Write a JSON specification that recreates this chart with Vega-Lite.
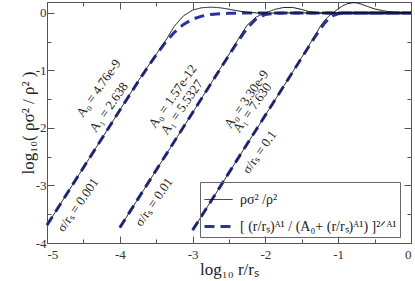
{
  "$schema": "https://vega.github.io/schema/vega-lite/v6.json",
  "width": 364,
  "height": 241,
  "autosize": {"type": "none"},
  "padding": {"left": 47, "top": 2, "right": 4, "bottom": 38},
  "background": "white",
  "config": {
    "font": "Liberation Serif",
    "view": {"stroke": "#555"},
    "axis": {
      "grid": false,
      "domainColor": "#555",
      "tickColor": "#555",
      "labelFont": "Liberation Serif",
      "labelFontSize": 13,
      "labelColor": "#333",
      "titleFont": "Liberation Serif",
      "titleFontSize": 17,
      "titleFontWeight": "normal",
      "titleColor": "#222"
    }
  },
  "datasets": {
    "curves": [
      {"curve": "c1", "kind": "fit", "L": -5, "y": -3.69},
      {"curve": "c1", "kind": "fit", "L": -4.5, "y": -2.69},
      {"curve": "c1", "kind": "fit", "L": -4, "y": -1.693},
      {"curve": "c1", "kind": "fit", "L": -3.75, "y": -1.199},
      {"curve": "c1", "kind": "fit", "L": -3.625, "y": -0.959},
      {"curve": "c1", "kind": "fit", "L": -3.5, "y": -0.729},
      {"curve": "c1", "kind": "fit", "L": -3.375, "y": -0.517},
      {"curve": "c1", "kind": "fit", "L": -3.25, "y": -0.337},
      {"curve": "c1", "kind": "fit", "L": -3.125, "y": -0.2},
      {"curve": "c1", "kind": "fit", "L": -3.0, "y": -0.109},
      {"curve": "c1", "kind": "fit", "L": -2.875, "y": -0.055},
      {"curve": "c1", "kind": "fit", "L": -2.75, "y": -0.027},
      {"curve": "c1", "kind": "fit", "L": -2.625, "y": -0.013},
      {"curve": "c1", "kind": "fit", "L": -2.5, "y": -0.006},
      {"curve": "c1", "kind": "fit", "L": -2.25, "y": -0.001},
      {"curve": "c1", "kind": "fit", "L": -2.0, "y": 0},
      {"curve": "c1", "kind": "fit", "L": 0, "y": 0},
      {"curve": "c2", "kind": "fit", "L": -4, "y": -3.733},
      {"curve": "c2", "kind": "fit", "L": -3.5, "y": -2.733},
      {"curve": "c2", "kind": "fit", "L": -3, "y": -1.733},
      {"curve": "c2", "kind": "fit", "L": -2.75, "y": -1.233},
      {"curve": "c2", "kind": "fit", "L": -2.625, "y": -0.983},
      {"curve": "c2", "kind": "fit", "L": -2.5, "y": -0.735},
      {"curve": "c2", "kind": "fit", "L": -2.375, "y": -0.49},
      {"curve": "c2", "kind": "fit", "L": -2.25, "y": -0.265},
      {"curve": "c2", "kind": "fit", "L": -2.125, "y": -0.101},
      {"curve": "c2", "kind": "fit", "L": -2.0, "y": -0.026},
      {"curve": "c2", "kind": "fit", "L": -1.875, "y": -0.006},
      {"curve": "c2", "kind": "fit", "L": -1.75, "y": -0.001},
      {"curve": "c2", "kind": "fit", "L": -1.5, "y": 0},
      {"curve": "c2", "kind": "fit", "L": 0, "y": 0},
      {"curve": "c3", "kind": "fit", "L": -3, "y": -3.777},
      {"curve": "c3", "kind": "fit", "L": -2.5, "y": -2.777},
      {"curve": "c3", "kind": "fit", "L": -2, "y": -1.777},
      {"curve": "c3", "kind": "fit", "L": -1.75, "y": -1.277},
      {"curve": "c3", "kind": "fit", "L": -1.5, "y": -0.777},
      {"curve": "c3", "kind": "fit", "L": -1.4375, "y": -0.652},
      {"curve": "c3", "kind": "fit", "L": -1.375, "y": -0.528},
      {"curve": "c3", "kind": "fit", "L": -1.3125, "y": -0.405},
      {"curve": "c3", "kind": "fit", "L": -1.25, "y": -0.286},
      {"curve": "c3", "kind": "fit", "L": -1.1875, "y": -0.179},
      {"curve": "c3", "kind": "fit", "L": -1.125, "y": -0.093},
      {"curve": "c3", "kind": "fit", "L": -1.0625, "y": -0.04},
      {"curve": "c3", "kind": "fit", "L": -1.0, "y": -0.015},
      {"curve": "c3", "kind": "fit", "L": -0.9375, "y": -0.005},
      {"curve": "c3", "kind": "fit", "L": -0.875, "y": -0.002},
      {"curve": "c3", "kind": "fit", "L": -0.75, "y": 0},
      {"curve": "c3", "kind": "fit", "L": 0, "y": 0},
      {"curve": "c1", "kind": "rho", "L": -5, "y": -3.69},
      {"curve": "c1", "kind": "rho", "L": -4.5, "y": -2.69},
      {"curve": "c1", "kind": "rho", "L": -4, "y": -1.69},
      {"curve": "c1", "kind": "rho", "L": -3.75, "y": -1.19},
      {"curve": "c1", "kind": "rho", "L": -3.625, "y": -0.95},
      {"curve": "c1", "kind": "rho", "L": -3.5, "y": -0.72},
      {"curve": "c1", "kind": "rho", "L": -3.375, "y": -0.49},
      {"curve": "c1", "kind": "rho", "L": -3.25, "y": -0.23},
      {"curve": "c1", "kind": "rho", "L": -3.125, "y": -0.05},
      {"curve": "c1", "kind": "rho", "L": -3.0, "y": 0.05},
      {"curve": "c1", "kind": "rho", "L": -2.875, "y": 0.09},
      {"curve": "c1", "kind": "rho", "L": -2.75, "y": 0.1},
      {"curve": "c1", "kind": "rho", "L": -2.625, "y": 0.09},
      {"curve": "c1", "kind": "rho", "L": -2.5, "y": 0.065},
      {"curve": "c1", "kind": "rho", "L": -2.375, "y": 0.035},
      {"curve": "c1", "kind": "rho", "L": -2.25, "y": 0.012},
      {"curve": "c1", "kind": "rho", "L": -2.125, "y": 0.0},
      {"curve": "c1", "kind": "rho", "L": -2.0, "y": -0.005},
      {"curve": "c1", "kind": "rho", "L": -1.75, "y": 0},
      {"curve": "c1", "kind": "rho", "L": 0, "y": 0},
      {"curve": "c2", "kind": "rho", "L": -4, "y": -3.733},
      {"curve": "c2", "kind": "rho", "L": -3.5, "y": -2.733},
      {"curve": "c2", "kind": "rho", "L": -3, "y": -1.733},
      {"curve": "c2", "kind": "rho", "L": -2.75, "y": -1.23},
      {"curve": "c2", "kind": "rho", "L": -2.5, "y": -0.72},
      {"curve": "c2", "kind": "rho", "L": -2.375, "y": -0.46},
      {"curve": "c2", "kind": "rho", "L": -2.25, "y": -0.21},
      {"curve": "c2", "kind": "rho", "L": -2.125, "y": -0.07},
      {"curve": "c2", "kind": "rho", "L": -2.0, "y": 0.0},
      {"curve": "c2", "kind": "rho", "L": -1.875, "y": 0.06},
      {"curve": "c2", "kind": "rho", "L": -1.75, "y": 0.095},
      {"curve": "c2", "kind": "rho", "L": -1.625, "y": 0.095},
      {"curve": "c2", "kind": "rho", "L": -1.5, "y": 0.06},
      {"curve": "c2", "kind": "rho", "L": -1.375, "y": 0.015},
      {"curve": "c2", "kind": "rho", "L": -1.25, "y": -0.003},
      {"curve": "c2", "kind": "rho", "L": -1.0, "y": 0},
      {"curve": "c2", "kind": "rho", "L": 0, "y": 0},
      {"curve": "c3", "kind": "rho", "L": -3, "y": -3.777},
      {"curve": "c3", "kind": "rho", "L": -2.5, "y": -2.777},
      {"curve": "c3", "kind": "rho", "L": -2, "y": -1.777},
      {"curve": "c3", "kind": "rho", "L": -1.75, "y": -1.277},
      {"curve": "c3", "kind": "rho", "L": -1.5, "y": -0.77},
      {"curve": "c3", "kind": "rho", "L": -1.4375, "y": -0.645},
      {"curve": "c3", "kind": "rho", "L": -1.375, "y": -0.51},
      {"curve": "c3", "kind": "rho", "L": -1.3125, "y": -0.38},
      {"curve": "c3", "kind": "rho", "L": -1.25, "y": -0.24},
      {"curve": "c3", "kind": "rho", "L": -1.1875, "y": -0.13},
      {"curve": "c3", "kind": "rho", "L": -1.125, "y": -0.05},
      {"curve": "c3", "kind": "rho", "L": -1.0625, "y": 0.01},
      {"curve": "c3", "kind": "rho", "L": -1.0, "y": 0.07},
      {"curve": "c3", "kind": "rho", "L": -0.9375, "y": 0.125},
      {"curve": "c3", "kind": "rho", "L": -0.875, "y": 0.16},
      {"curve": "c3", "kind": "rho", "L": -0.8, "y": 0.178},
      {"curve": "c3", "kind": "rho", "L": -0.75, "y": 0.175},
      {"curve": "c3", "kind": "rho", "L": -0.6875, "y": 0.155},
      {"curve": "c3", "kind": "rho", "L": -0.625, "y": 0.125},
      {"curve": "c3", "kind": "rho", "L": -0.5, "y": 0.07},
      {"curve": "c3", "kind": "rho", "L": -0.375, "y": 0.035},
      {"curve": "c3", "kind": "rho", "L": -0.25, "y": 0.015},
      {"curve": "c3", "kind": "rho", "L": -0.125, "y": 0.006},
      {"curve": "c3", "kind": "rho", "L": 0, "y": 0.003}
    ],
    "notes": [
      {"x": -4.29, "y": -1.31, "text": "A₀ = 4.76e-9"},
      {"x": -4.15, "y": -1.64, "text": "A₁ = 2.638"},
      {"x": -4.574, "y": -3.34, "text": "σ/rₛ = 0.001"},
      {"x": -3.27, "y": -1.45, "text": "A₀ = 1.57e-12"},
      {"x": -3.145, "y": -1.64, "text": "A₁ = 5.5327"},
      {"x": -3.53, "y": -3.29, "text": "σ/rₛ = 0.01"},
      {"x": -2.26, "y": -1.5, "text": "A₀ = 3.30e-9"},
      {"x": -2.18, "y": -1.65, "text": "A₁ = 7.630"},
      {"x": -2.08, "y": -2.42, "text": "σ/rₛ = 0.1"}
    ]
  },
  "resolve": {"axis": {"x": "independent", "y": "independent"}},
  "layer": [
    {
      "data": {"name": "curves"},
      "transform": [{"filter": "datum.kind === 'fit'"}],
      "mark": {"type": "line", "strokeCap": "butt"},
      "encoding": {
        "x": {
          "field": "L", "type": "quantitative",
          "scale": {"domain": [-5, 0], "nice": false, "zero": false},
          "axis": {
            "orient": "bottom",
            "values": [-5, -4.5, -4, -3.5, -3, -2.5, -2, -1.5, -1, -0.5, 0],
            "labelExpr": "datum.value % 1 === 0 ? '' + datum.value : ''",
            "tickSize": {"condition": {"test": "datum.value % 1 === 0", "value": -7}, "value": -4},
            "labelPadding": 12,
            "title": "log₁₀ r/rₛ",
            "titlePadding": 0
          }
        },
        "y": {
          "field": "y", "type": "quantitative",
          "scale": {"domain": [-4, 0.19], "nice": false, "zero": false},
          "axis": {
            "orient": "left",
            "values": [-4, -3.5, -3, -2.5, -2, -1.5, -1, -0.5, 0],
            "labelExpr": "datum.value % 1 === 0 ? '' + datum.value : ''",
            "tickSize": {"condition": {"test": "datum.value % 1 === 0", "value": -7}, "value": -4},
            "labelPadding": 8,
            "title": "log₁₀( ρσ² / ρ² )",
            "titlePadding": -2
          }
        },
        "detail": {"field": "curve"},
        "color": {
          "field": "kind", "type": "nominal",
          "scale": {"domain": ["rho", "fit"], "range": ["#111111", "#2a3399"]},
          "legend": {
            "orient": "none", "legendX": 153, "legendY": 180,
            "title": null, "strokeColor": "#666", "padding": 3,
            "symbolType": "stroke", "symbolSize": 784,
            "labelFont": "Liberation Serif", "labelFontSize": 14, "labelColor": "#222",
            "labelOffset": 6, "rowPadding": 4,
            "labelExpr": "datum.value === 'rho' ? 'ρσ² /ρ²' : '[ (r/rₛ)ᴬ¹ / (A₀+ (r/rₛ)ᴬ¹) ]²ᐟᴬ¹'"
          }
        },
        "strokeDash": {
          "field": "kind", "type": "nominal",
          "scale": {"domain": ["rho", "fit"], "range": [[1, 0], [10, 6]]}
        },
        "strokeWidth": {
          "field": "kind", "type": "nominal",
          "scale": {"domain": ["rho", "fit"], "range": [1, 3]}
        }
      }
    },
    {
      "data": {"name": "curves"},
      "transform": [{"filter": "datum.kind === 'rho'"}],
      "mark": {"type": "line"},
      "encoding": {
        "x": {"field": "L", "type": "quantitative", "scale": {"domain": [-5, 0], "nice": false, "zero": false}, "axis": null},
        "y": {"field": "y", "type": "quantitative", "scale": {"domain": [-4, 0.19], "nice": false, "zero": false}, "axis": null},
        "detail": {"field": "curve"},
        "color": {"field": "kind", "type": "nominal", "scale": {"domain": ["rho", "fit"], "range": ["#111111", "#2a3399"]}},
        "strokeDash": {"field": "kind", "type": "nominal", "scale": {"domain": ["rho", "fit"], "range": [[1, 0], [10, 6]]}},
        "strokeWidth": {"field": "kind", "type": "nominal", "scale": {"domain": ["rho", "fit"], "range": [1, 3]}}
      }
    },
    {
      "data": {"name": "notes"},
      "mark": {"type": "text", "angle": 305, "fontSize": 13, "font": "Liberation Serif", "color": "#222", "align": "center", "baseline": "middle"},
      "encoding": {
        "x": {
          "field": "x", "type": "quantitative",
          "scale": {"domain": [-5, 0], "nice": false, "zero": false},
          "axis": {
            "orient": "top",
            "values": [-5, -4.5, -4, -3.5, -3, -2.5, -2, -1.5, -1, -0.5, 0],
            "labels": false, "title": null,
            "tickSize": {"condition": {"test": "datum.value % 1 === 0", "value": -7}, "value": -4}
          }
        },
        "y": {
          "field": "y", "type": "quantitative",
          "scale": {"domain": [-4, 0.19], "nice": false, "zero": false},
          "axis": {
            "orient": "right",
            "values": [-4, -3.5, -3, -2.5, -2, -1.5, -1, -0.5, 0],
            "labels": false, "title": null,
            "tickSize": {"condition": {"test": "datum.value % 1 === 0", "value": -7}, "value": -4}
          }
        },
        "text": {"field": "text", "type": "nominal"}
      }
    }
  ]
}
